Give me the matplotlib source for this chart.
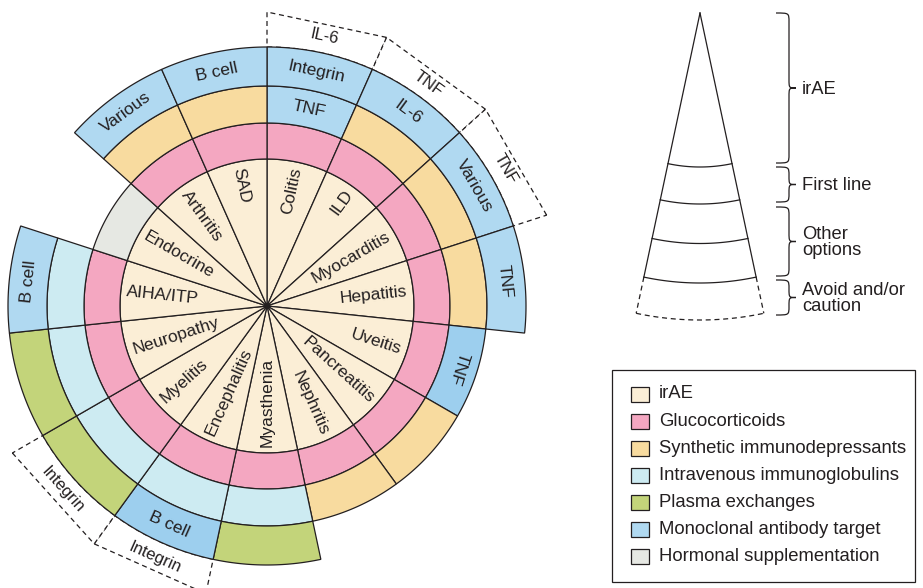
import numpy as np
import matplotlib
matplotlib.use("Agg")
import matplotlib.pyplot as plt
from matplotlib.patches import Polygon, Rectangle, Circle, PathPatch
from matplotlib.path import Path

plt.rcParams['font.family'] = ['Liberation Sans', 'DejaVu Sans']

# irAE sectors, clockwise from 12 o'clock
sectors = ["Colitis", "ILD", "Myocarditis", "Hepatitis", "Uveitis", "Pancreatitis",
           "Nephritis", "Myasthenia", "Encephalitis", "Myelitis", "Neuropathy",
           "AIHA/ITP", "Endocrine", "Arthritis", "SAD"]

# treatment per ring: G gluco, H hormonal, S synthetic, I ivig, P plasma, M / M2 mAb target
first_line = ["G", "G", "G", "G", "G", "G", "G", "G", "G", "G", "G", "G", "H", "G", "G"]
other_1 = ["M", "S", "S", "S", "M2", "S", "S", "I", "I", "I", "I", "I", None, "S", "S"]
other_1_txt = ["TNF", "", "", "", "TNF", "", "", "", "", "", "", "", "", "", ""]
other_2 = ["M", "M", "M", "M", None, None, None, "P", "M2", "P", "P", "M", None, "M", "M"]
other_2_txt = ["Integrin", "IL-6", "Various", "TNF", "", "", "", "", "B cell", "", "",
               "B cell", "", "Various", "B cell"]
caution_txt = ["IL-6", "TNF", "TNF", "", "", "", "", "", "Integrin", "Integrin", "", "", "", "", ""]

legend_keys = ["A", "G", "S", "I", "P", "M", "H"]
legend_labels = ["irAE", "Glucocorticoids", "Synthetic immunodepressants",
                 "Intravenous immunoglobulins", "Plasma exchanges",
                 "Monoclonal antibody target", "Hormonal supplementation"]

key_labels = ["irAE", "First line", "Other\noptions", "Avoid and/or\ncaution"]

colors = {"A": "#fbeed6", "G": "#f4a7c1", "S": "#f8db9f", "I": "#cdebf2",
          "P": "#c3d47a", "M": "#b0d9f1", "M2": "#9dcfee", "H": "#e6e8e3"}
ink = "#231f20"

cx, cy = 267, 306
radii = [0, 147, 183, 220, 259, 294]
step = 360 / len(sectors)


def pt(r, a, x0=cx, y0=cy):
    a = np.radians(a)
    return x0 + r * np.cos(a), y0 - r * np.sin(a)


def ring_poly(r0, r1, a1, a2, chord=False):
    aa = np.linspace(a1, a2, 40)
    outer = [pt(r1, a) for a in aa] if not chord else [pt(r1, a1), pt(r1, a2)]
    inner = [pt(r0, a) for a in aa[::-1]] if r0 > 0 else [(cx, cy)]
    return outer + inner


fig = plt.figure(figsize=(9.23, 5.88), dpi=100)
ax = fig.add_axes([0, 0, 1, 1])
ax.set_xlim(0, 923)
ax.set_ylim(588, 0)
ax.set_aspect("equal")
ax.axis("off")

lw = 0.9
rings = [first_line, other_1, other_2]
ring_txt = [[""] * len(sectors), other_1_txt, other_2_txt]

for i, name in enumerate(sectors):
    a2 = 90 - step * i
    a1 = a2 - step
    mid = (a1 + a2) / 2
    # cream irAE sector
    ax.add_patch(Polygon(ring_poly(0, radii[1], a1, a2), fc=colors["A"], ec=ink, lw=lw, zorder=3))
    m = (mid + 180) % 360 - 180
    if -90 < m <= 90:
        rot, ha = m, "right"
    else:
        rot, ha = m - 180 if m > 0 else m + 180, "left"
    x, y = pt(141, mid)
    ax.text(x, y, name, rotation=rot, rotation_mode="anchor", ha=ha, va="center",
            fontsize=12.5, color=ink, zorder=6)

    trot = m + 90 if -150 < m < -30 else m - 90
    for k in range(3):
        cat = rings[k][i]
        if cat is None:
            continue
        ax.add_patch(Polygon(ring_poly(radii[k + 1], radii[k + 2], a1, a2),
                             fc=colors[cat], ec=ink, lw=lw, zorder=3))
        if ring_txt[k][i]:
            x, y = pt((radii[k + 1] + radii[k + 2]) / 2, mid)
            ax.text(x, y, ring_txt[k][i], rotation=trot, rotation_mode="anchor",
                    ha="center", va="center", fontsize=12.5, color=ink, zorder=6)
    if caution_txt[i]:
        ax.add_patch(Polygon(ring_poly(radii[4], radii[5], a1, a2, chord=True),
                             fc="white", ec=ink, lw=lw, ls=(0, (4, 3)), zorder=2))
        x, y = pt(275, mid)
        ax.text(x, y, caution_txt[i], rotation=trot, rotation_mode="anchor",
                ha="center", va="center", fontsize=12, color=ink, zorder=6)

ax.add_patch(Circle((cx, cy), 2.5, fc=ink, ec="none", zorder=5))

# key wedge on the right
px, py = 700, 13
kr = [154, 191, 230.5, 270, 307]
half = 12


def kpt(r, t):
    t = np.radians(t)
    return px + r * np.sin(t), py + r * np.cos(t)


for s in (-half, half):
    ax.plot(*zip((px, py), kpt(kr[3], s)), color=ink, lw=lw)
    ax.plot(*zip(kpt(kr[3], s), kpt(kr[4], s)), color=ink, lw=lw, ls=(0, (4, 3)))
tt = np.linspace(-half, half, 40)
for j, r in enumerate(kr):
    xs, ys = zip(*[kpt(r, t) for t in tt])
    ax.plot(xs, ys, color=ink, lw=lw, ls="-" if j < 4 else (0, (4, 3)))


def brace(y0, y1, x0=776, xs=789, xt=796):
    q = min(9, (y1 - y0) / 4)
    ym = (y0 + y1) / 2
    verts = [(x0, y0),
             (xs, y0), (xs, y0), (xs, y0 + q),
             (xs, ym - q),
             (xs, ym), (xs, ym), (xt, ym),
             (xs, ym), (xs, ym), (xs, ym + q),
             (xs, y1 - q),
             (xs, y1), (xs, y1), (x0, y1)]
    codes = [Path.MOVETO] + [Path.CURVE4] * 3 + [Path.LINETO] + [Path.CURVE4] * 6 \
        + [Path.LINETO] + [Path.CURVE4] * 3
    ax.add_patch(PathPatch(Path(verts, codes), fc="none", ec=ink, lw=lw))


brace_spans = [(13, 163), (167, 202), (207, 276), (280, 315)]
for (y0, y1), lab in zip(brace_spans, key_labels):
    brace(y0, y1)
    ax.text(802, (y0 + y1) / 2 + 1, lab, ha="left", va="center", fontsize=13.2,
            color=ink, linespacing=0.95)

# legend box
ax.add_patch(Rectangle((612, 370), 303, 212, fc="white", ec=ink, lw=lw))
for j, (k, lab) in enumerate(zip(legend_keys, legend_labels)):
    yc = 394 + 27.1 * j
    ax.add_patch(Rectangle((631, yc - 7.5), 18, 15, fc=colors[k], ec=ink, lw=lw))
    ax.text(659, yc, lab, ha="left", va="center", fontsize=13.3, color=ink)

fig.savefig("out.png", dpi=100)
